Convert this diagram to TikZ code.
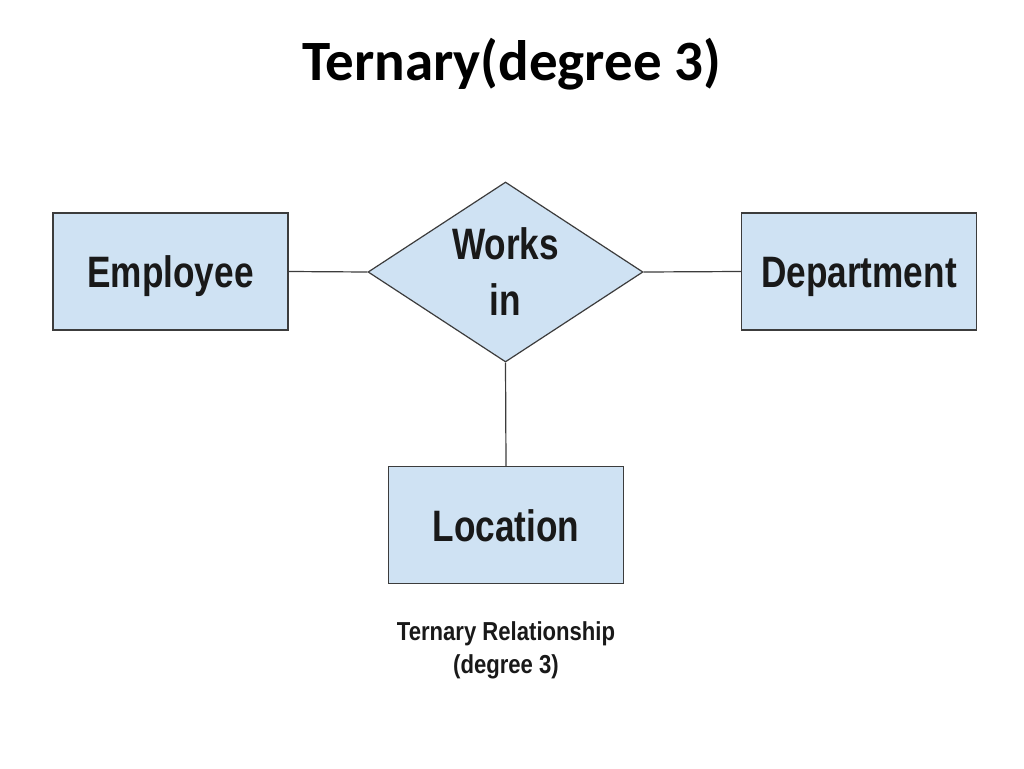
\documentclass[tikz,border=0pt]{standalone}
\usepackage{fontspec}
\usetikzlibrary{shapes.geometric}
\newfontfamily\titlefont{Carlito}
\newfontfamily\boxfont[FakeStretch=0.8]{Liberation Sans}
\newfontfamily\capfont[FakeStretch=0.85]{Liberation Sans}
\definecolor{boxfill}{HTML}{CFE2F3}
\definecolor{edge}{HTML}{3C3C3C}
\tikzset{
  entity/.style={draw=edge, line width=1.2pt, fill=boxfill, minimum width=235pt, minimum height=117pt, inner sep=0pt,
    text height=32pt, text depth=0pt,
    font=\boxfont\bfseries\fontsize{44}{46}\selectfont, text=black!90},
  rel/.style={diamond, draw=edge, line width=1.2pt, fill=boxfill, minimum width=275pt, minimum height=180pt, inner sep=0pt,
    aspect=1.53, align=center, font=\boxfont\bfseries\fontsize{44}{56}\selectfont, text=black!90},
  link/.style={draw=edge, line width=1.2pt}
}
\begin{document}
\begin{tikzpicture}[x=1pt,y=1pt]
\useasboundingbox[fill=white] (0,0) rectangle (1024,-768);
\node[font=\titlefont\bfseries\fontsize{57}{66}\selectfont] (title) at (512,-64) {Ternary(degree 3)};
\node[entity] (emp) at (170.5,-271.5) {Employee};
\node[entity] (dept) at (859,-271.5) {Department};
\node[entity] (loc) at (506,-525) {Location};
\node[rel] (works) at (505.5,-272) {Works\\in};
\draw[link] (emp.east) -- (works.west);
\draw[link] (works.east) -- (dept.west);
\draw[link] (works.south) -- (loc.north);
\node[align=center, font=\capfont\bfseries\fontsize{26}{33}\selectfont, text=black!90] (cap) at (506,-650) {Ternary Relationship\\(degree 3)};
\end{tikzpicture}
\end{document}
